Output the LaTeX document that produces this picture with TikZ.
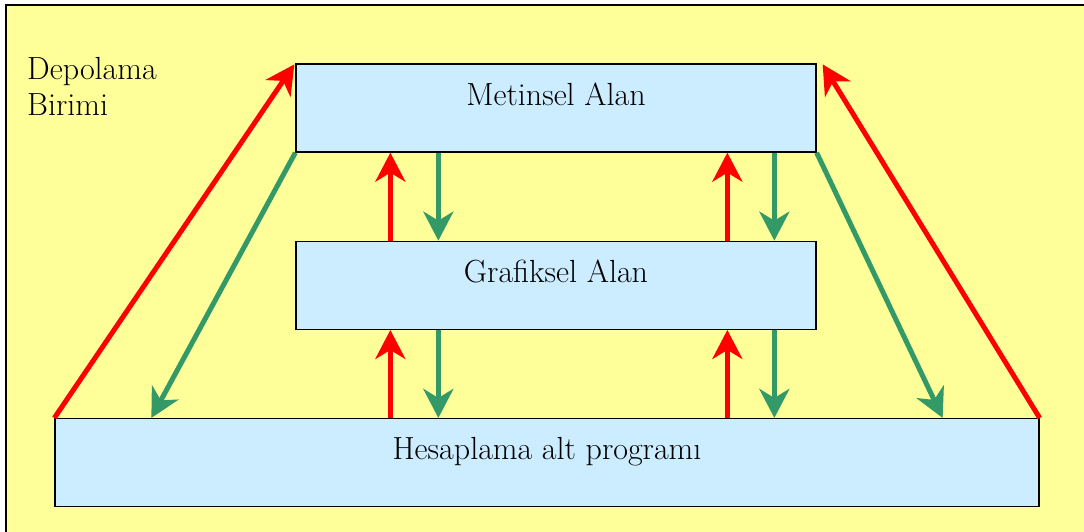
\documentclass[tikz,border=0pt]{standalone}
\usepackage{xcolor}
\usepackage{tikz}
\usetikzlibrary{arrows.meta,positioning}
\definecolor{areayellow}{RGB}{255,255,153}
\definecolor{areablue}{RGB}{204,236,255}
\definecolor{flowred}{RGB}{255,0,0}
\definecolor{flowgreen}{RGB}{51,153,102}
\definecolor{ink}{RGB}{0,0,0}

\begin{document}
\begin{tikzpicture}[
  x=1pt, y=-1pt,
  node distance=88pt and 88pt,
  box/.style={rectangle, draw=ink, line width=1.3pt, fill=areablue,
    minimum width=520pt, minimum height=88pt, inner sep=0pt,
    text height=21pt, text depth=27pt,
    font=\fontsize{32}{38}\selectfont},
  uparrow/.style={-{Stealth[length=29pt,width=30pt,inset=9pt]}, line width=5pt, draw=flowred},
  downarrow/.style={-{Stealth[length=29pt,width=30pt,inset=9pt]}, line width=5pt, draw=flowgreen}
]
\useasboundingbox (0,0) rectangle (1084,531);
\fill[white] (0,0) rectangle (1084,531);
\fill[areayellow] (6,5) rectangle (1100,545);
\draw[ink, line width=1.5pt] (6,545) -- (6,5) -- (1100,5);

\node[anchor=north west, align=left, inner sep=0pt,
  font=\fontsize{32}{36}\selectfont] (unit) at (27,57) {Depolama\\Birimi};

\node[box] (text) at (556,108) {Metinsel Alan};
\node[box, below=of text] (graph) {Grafiksel Alan};
\node[box, minimum width=984pt, below=of graph, xshift=-9pt] (calc) {Hesaplama alt programı};

% outer paths
\draw[uparrow] (calc.north west) -- ([xshift=-1pt,yshift=-1pt]text.north west);
\draw[downarrow] (text.south west) -- ([xshift=97pt]calc.north west);
\draw[uparrow] (calc.north east) -- ([xshift=6pt,yshift=-1pt]text.north east);
\draw[downarrow] (text.south east) -- ([xshift=-97pt]calc.north east);

% between the areas
\foreach \a/\b in {graph/text, calc/graph} {
  \foreach \dx/\up in {95/1, 143/0, 432/1, 479/0} {
    \ifnum\up=1
      \draw[uparrow] ([xshift=\dx pt]graph.south west |- \a.north) -- ([xshift=\dx pt]graph.south west |- \b.south);
    \else
      \draw[downarrow] ([xshift=\dx pt]graph.south west |- \b.south) -- ([xshift=\dx pt]graph.south west |- \a.north);
    \fi
  }
}

\end{tikzpicture}
\end{document}
